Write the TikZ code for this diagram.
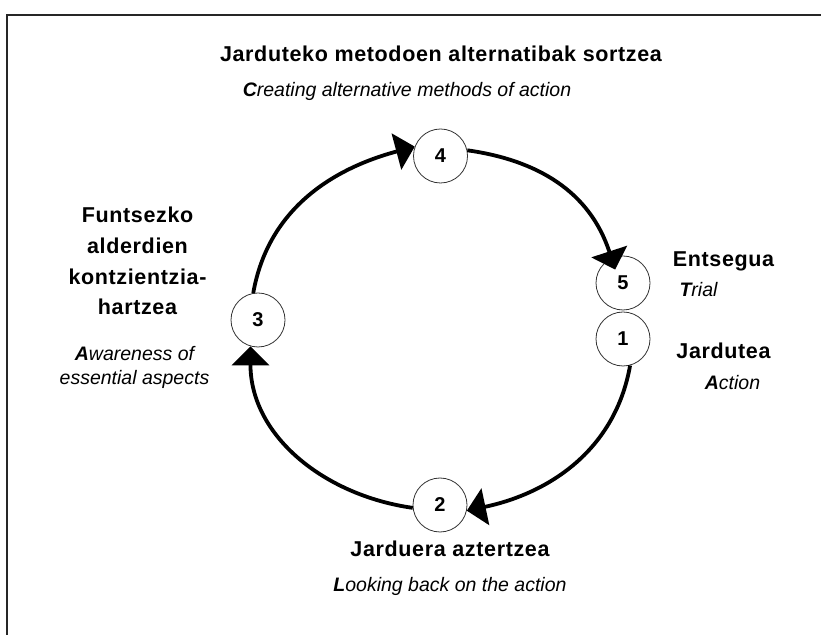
\documentclass[tikz,border=0pt]{standalone}
\usepackage{fontspec}
\setmainfont{Liberation Sans}
\newfontfamily\spacedsans[LetterSpace=3]{Liberation Sans}
\usetikzlibrary{arrows.meta}

\tikzset{
  head/.style={font=\spacedsans\bfseries\fontsize{21.5}{30.7}\selectfont, inner sep=0pt, align=center},
  note/.style={font=\itshape\fontsize{19.5}{24}\selectfont, inner sep=0pt, align=center},
  stage/.style={circle, draw=black!80, line width=0.8pt, fill=white,
                minimum size=54pt, inner sep=0pt, font=\bfseries\fontsize{20}{20}\selectfont},
  flow/.style={line width=3.8pt, -{Triangle[width=37pt,length=19pt]}},
  frame/.style={line width=1.3pt, draw=black!85}
}

\begin{document}
\begin{tikzpicture}[x=1pt,y=1pt]
  \useasboundingbox (0,0) rectangle (821,634);

  % open frame along the left and top edges
  \draw[frame] (7,-5) -- (7,619) -- (830,619);

  % stages of the cycle
  \node[stage] (n4) at (440.5,478) {4};
  \node[stage] (n5) at (623,351) {5};
  \node[stage] (n1) at (623,295) {1};
  \node[stage] (n2) at (440,129) {2};
  \node[stage] (n3) at (258,314) {3};

  % arcs between the stages
  \draw[flow] (n3.100) to[out=80,in=195] (n4.160);
  \draw[flow, shorten >=-12pt] (n4.12) to[out=-8,in=108] (n5.115);
  \draw[flow] (n1.-75) to[out=-100,in=12] (n2.-12);
  \draw[flow] (n2.186) to[out=172,in=270] (n3.254);

  % labels
  \node[head, anchor=base] (t4) at (441,572) {Jarduteko metodoen alternatibak sortzea};
  \node[note, anchor=base] (s4) at (407,537) {\textbf{C}reating alternative methods of action};

  \node[head, anchor=north] (t3) at (137.5,427) {Funtsezko\\alderdien\\kontzientzia-\\hartzea};
  \node[note, anchor=north] (s3) at (134.5,288) {\textbf{A}wareness of\\essential aspects};

  \node[head, anchor=base] (t5) at (723.5,367) {Entsegua};
  \node[note, anchor=base] (s5) at (698.5,337) {\textbf{T}rial};

  \node[head, anchor=base] (t1) at (723.5,275) {Jardutea};
  \node[note, anchor=base] (s1) at (732.5,244) {\textbf{A}ction};

  \node[head, anchor=base] (t2) at (450,77) {Jarduera aztertzea};
  \node[note, anchor=base] (s2) at (450,42) {\textbf{L}ooking back on the action};
\end{tikzpicture}
\end{document}
